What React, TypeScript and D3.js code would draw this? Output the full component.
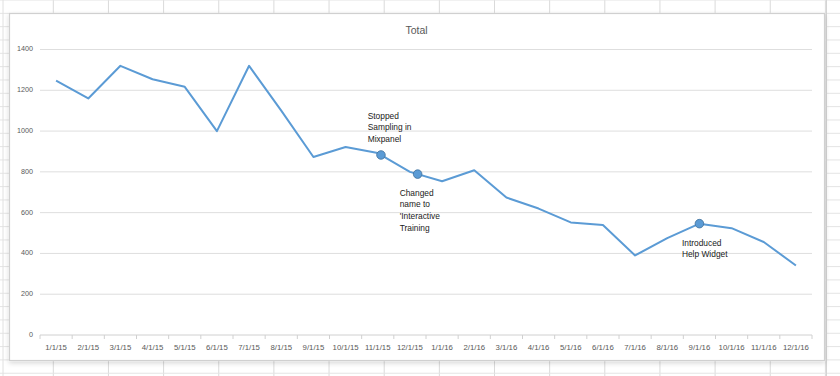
import React from "react";
import * as d3 from "d3";

const categories = [
  "1/1/15", "2/1/15", "3/1/15", "4/1/15", "5/1/15", "6/1/15", "7/1/15", "8/1/15",
  "9/1/15", "10/1/15", "11/1/15", "12/1/15", "1/1/16", "2/1/16", "3/1/16", "4/1/16",
  "5/1/16", "6/1/16", "7/1/16", "8/1/16", "9/1/16", "10/1/16", "11/1/16", "12/1/16",
];
const totals = [
  1247, 1160, 1320, 1254, 1217, 1000, 1320, 1100, 873, 922, 892, 800,
  754, 808, 674, 620, 552, 539, 390, 475, 546, 524, 456, 341,
];
const yTicks = [0, 200, 400, 600, 800, 1000, 1200, 1400];
// annotation markers sit on the line, at fractional category positions
const notePos = [10.1, 11.24, 20];
const noteLines = [
  ["Stopped", "Sampling in", "Mixpanel"],
  ["Changed", "name to", "'Interactive", "Training"],
  ["Introduced", "Help Widget"],
];
const title = "Total";

const W = 840;
const H = 376;
const FONT = "'Liberation Sans', Arial, sans-serif";

export default function App() {
  const x = d3.scaleBand<string>().domain(categories).range([40, 812]);
  const y = d3.scaleLinear().domain([0, 1400]).range([335, 49.5]);
  const cx = (c: string) => (x(c) as number) + x.bandwidth() / 2;
  const xi = d3.scaleLinear().domain([0, categories.length - 1]).range([cx(categories[0]), cx(categories[categories.length - 1])]);

  const line = d3
    .line<number>()
    .x((_, i) => cx(categories[i]))
    .y((d) => y(d));

  const valAt = (p: number) => {
    const i0 = Math.floor(p);
    const i1 = Math.min(i0 + 1, totals.length - 1);
    return d3.interpolateNumber(totals[i0], totals[i1])(p - i0);
  };

  // spreadsheet background grid
  const colXs = d3.range(0, 16).map((i) => 53.3 + i * 55.15);
  const rowYs = d3.range(0, 29).map((i) => i * 13.33);

  const noteOffsets = [
    { dx: -13.3, dy: -38.5 },
    { dx: -18, dy: 19.5 },
    { dx: -17.5, dy: 20 },
  ];

  return (
    <svg
      width={W}
      height={H}
      style={{ position: "absolute", left: 0, top: 0, display: "block" }}
    >
      <defs>
        <filter id="sh" x="-5%" y="-5%" width="110%" height="115%">
          <feDropShadow dx="0" dy="2" stdDeviation="2.5" floodColor="#000" floodOpacity="0.16" />
        </filter>
      </defs>
      <rect x={0} y={0} width={W} height={H} fill="#ffffff" />
      {colXs.map((cxp, i) => (
        <line key={"c" + i} x1={cxp} x2={cxp} y1={0} y2={H} stroke="#dadada" strokeWidth={1} />
      ))}
      {rowYs.map((ry, i) => (
        <line key={"r" + i} x1={0} x2={W} y1={ry} y2={ry} stroke="#e4e4e4" strokeWidth={1} />
      ))}
      <line x1={826.5} x2={826.5} y1={0} y2={H} stroke="#d4d4d4" />
      <line x1={3} x2={3} y1={0} y2={H} stroke="#e0e0e0" />

      {/* chart area */}
      <rect x={9.5} y={13.5} width={815} height={347} fill="#ffffff" stroke="#d0d0d0" strokeWidth={1.2} filter="url(#sh)" />

      <text x={416.5} y={31} textAnchor="middle" dominantBaseline="middle" fontFamily={FONT} fontSize={10.5} fill="#595959">
        {title}
      </text>

      {yTicks.map((t) => (
        <g key={t}>
          <line x1={40} x2={812} y1={y(t)} y2={y(t)} stroke={t === 0 ? "#d0d0d0" : "#dedede"} strokeWidth={1} />
          <text x={33} y={y(t)} textAnchor="end" dominantBaseline="middle" fontFamily={FONT} fontSize={7.2} fill="#595959">
            {t}
          </text>
        </g>
      ))}

      {categories.map((c, i) => (
        <g key={c}>
          <line x1={x(c) as number} x2={x(c) as number} y1={335} y2={339} stroke="#d0d0d0" />
          {i === categories.length - 1 && (
            <line x1={812} x2={812} y1={335} y2={339} stroke="#d0d0d0" />
          )}
          <text x={cx(c)} y={348} textAnchor="middle" dominantBaseline="middle" fontFamily={FONT} fontSize={7.8} fill="#595959">
            {c}
          </text>
        </g>
      ))}

      <path d={line(totals) || ""} fill="none" stroke="#5b9bd5" strokeWidth={2} strokeLinejoin="round" />

      {notePos.map((p, k) => {
        const px = xi(p);
        const py = y(valAt(p));
        return (
          <g key={"n" + k}>
            <circle cx={px} cy={py} r={4.3} fill="#5b9bd5" stroke="#41719c" strokeWidth={0.8} />
            {noteLines[k].map((t, j) => (
              <text
                key={j}
                x={px + noteOffsets[k].dx}
                y={py + noteOffsets[k].dy + j * 11.6}
                dominantBaseline="middle"
                fontFamily={FONT}
                fontSize={8.4}
                fill="#1a1a1a"
              >
                {t}
              </text>
            ))}
          </g>
        );
      })}
    </svg>
  );
}
